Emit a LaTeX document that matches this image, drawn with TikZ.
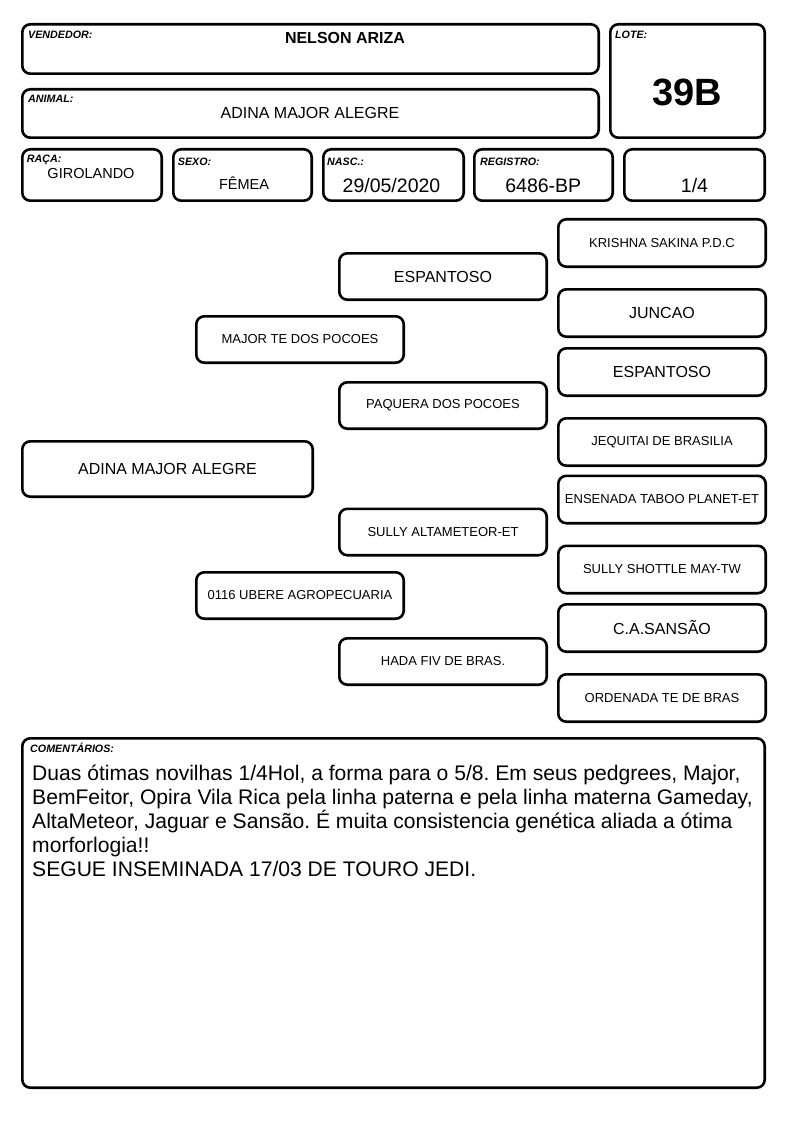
\documentclass[tikz,border=0pt]{standalone}
\usepackage{fontspec}
\setmainfont{Liberation Sans}
\newcommand\fsz[1]{\fontsize{#1}{#1}\selectfont}
\tikzset{
  bx/.style={draw, line width=2.6pt, rounded corners=8pt, inner sep=0pt, outer sep=0pt},
  lbl/.style={inner sep=0pt, anchor=base west, font=\fsz{10.7}\bfseries\itshape},
  val/.style={inner sep=0pt, anchor=base},
  big/.style={font=\fsz{16}},
  sml/.style={font=\fsz{13}},
  c3/.style={bx, minimum width=207.4pt, minimum height=46.4pt},
  c4/.style={bx, minimum width=207.4pt, minimum height=47.4pt}
}
\begin{document}
\begin{tikzpicture}[x=1pt,y=-1pt]
\useasboundingbox (0,0) rectangle (794,1123);
% header boxes
\node[bx, minimum width=576.4pt, minimum height=49.4pt] (vend) at (310.5,49) {};
\node[bx, minimum width=154.4pt, minimum height=113.4pt] (lote) at (687.5,81) {};
\node[bx, minimum width=576.4pt, minimum height=48.4pt] (anim) at (310.5,113.5) {};
\node[bx, minimum width=139.4pt, minimum height=51.4pt] (raca) at (92,175) {};
\node[bx, minimum width=138.4pt, minimum height=51.4pt] (sexo) at (242.5,175) {};
\node[bx, minimum width=140.4pt, minimum height=51.4pt] (nasc) at (393.5,175) {};
\node[bx, minimum width=138.4pt, minimum height=51.4pt] (regi) at (543.5,175) {};
\node[bx, minimum width=140.4pt, minimum height=51.4pt] (frac) at (694.5,175) {};
% labels
\node[lbl] (lvend) at (28,38.3) {VENDEDOR:};
\node[lbl] (llote) at (615,38.3) {LOTE:};
\node[lbl] (lanim) at (28,102.3) {ANIMAL:};
\node[lbl] (lraca) at (26.7,162.3) {RAÇA:};
\node[lbl] (lsexo) at (177.7,165.3) {SEXO:};
\node[lbl] (lnasc) at (327,165.3) {NASC.:};
\node[lbl] (lregi) at (480,165.3) {REGISTRO:};
% values
\node[val, font=\fsz{16}\bfseries] (vvend) at (345,43.3) {NELSON ARIZA};
\node[val, font=\fsz{16}] (vanim) at (310,119) {ADINA MAJOR ALEGRE};
\node[val, font=\fsz{38}\bfseries] (vlote) at (687,105.7) {39B};
\node[val, font=\fsz{14.5}] (vraca) at (91,178.3) {GIROLANDO};
\node[val, font=\fsz{14.5}] (vsexo) at (244,189.3) {FÊMEA};
\node[val, font=\fsz{19.5}] (vnasc) at (391.5,192.3) {29/05/2020};
\node[val, font=\fsz{19.5}] (vregi) at (543.3,192.3) {6486-BP};
\node[val, font=\fsz{19.5}] (vfrac) at (694.5,192.3) {1/4};
% pedigree
\node[bx, big, minimum width=290.4pt, minimum height=55.4pt] (p1) at (167.5,469) {ADINA MAJOR ALEGRE};
\node[bx, sml, minimum width=207.4pt, minimum height=46.4pt] (p2a) at (300,339.5) {MAJOR TE DOS POCOES};
\node[bx, sml, minimum width=207.4pt, minimum height=46.4pt] (p2b) at (300,595.5) {0116 UBERE AGROPECUARIA};
\node[c3, big] (p3a) at (443,276.5) {ESPANTOSO};
\node[c3, sml] (p3b) at (443,405.5) {PAQUERA DOS POCOES};
\node[c3, sml] (p3c) at (443,532) {SULLY ALTAMETEOR-ET};
\node[c3, sml] (p3d) at (443,661.5) {HADA FIV DE BRAS.};
\node[c4, sml] (p4a) at (662,243) {KRISHNA SAKINA P.D.C};
\node[c4, big] (p4b) at (662,313) {JUNCAO};
\node[c4, big] (p4c) at (662,372) {ESPANTOSO};
\node[c4, sml] (p4d) at (662,442) {JEQUITAI DE BRASILIA};
\node[c4, sml] (p4e) at (662,499.5) {ENSENADA TABOO PLANET-ET};
\node[c4, sml] (p4f) at (662,569.5) {SULLY SHOTTLE MAY-TW};
\node[c4, big] (p4g) at (662,628) {C.A.SANSÃO};
\node[c4, sml] (p4h) at (662,698) {ORDENADA TE DE BRAS};
% comments
\node[bx, minimum width=742.4pt, minimum height=349.4pt] (coms) at (393.5,913) {};
\node[lbl] (lcoms) at (30,752.7) {COMENTÁRIOS:};
\node[inner sep=0pt, anchor=base west] (tcoms) at (32,780) {\vtop{\hsize=740pt\parindent=0pt\frenchspacing\fsz{21.1}\baselineskip=24pt
Duas ótimas novilhas 1/4Hol, a forma para o 5/8. Em seus pedgrees, Major,\par
BemFeitor, Opira Vila Rica pela linha paterna e pela linha materna Gameday,\par
AltaMeteor, Jaguar e Sansão. É muita consistencia genética aliada a ótima\par
morforlogia!!\par
SEGUE INSEMINADA 17/03 DE TOURO JEDI.}};
\end{tikzpicture}
\end{document}
